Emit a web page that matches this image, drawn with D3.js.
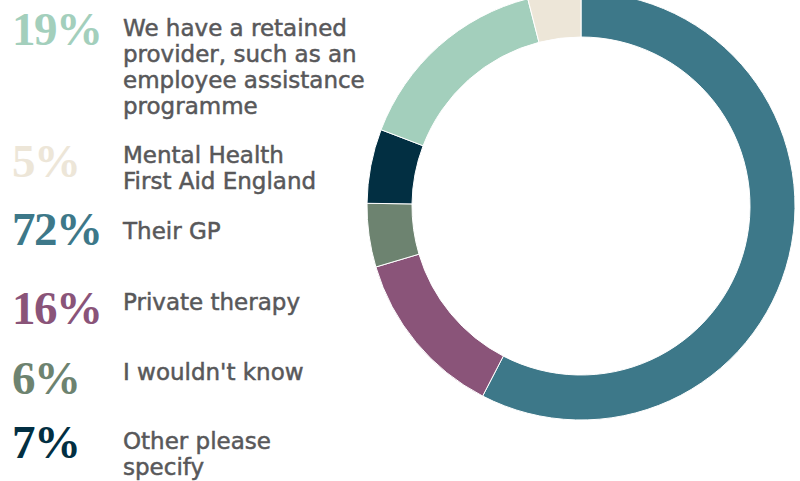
<!DOCTYPE html>
<html>
<head>
<meta charset="utf-8">
<script src="https://cdn.jsdelivr.net/npm/d3@7"></script>
<style>
  html, body { margin: 0; padding: 0; background: #ffffff; }
  svg { display: block; }
</style>
</head>
<body>
<svg id="chart" width="800" height="481"></svg>
<script>
// Where employees would turn for mental health support (multiple answers allowed)
const categories = [
  "We have a retained provider, such as an employee assistance programme",
  "Mental Health First Aid England",
  "Their GP",
  "Private therapy",
  "I wouldn't know",
  "Other please specify"
];
const labelLines = [
  ["We have a retained", "provider, such as an", "employee assistance", "programme"],
  ["Mental Health", "First Aid England"],
  ["Their GP"],
  ["Private therapy"],
  ["I wouldn't know"],
  ["Other please", "specify"]
];
const values = [19, 5, 72, 16, 6, 7];
// Order of the ring segments, clockwise from twelve o'clock
const ringOrder = [2, 3, 4, 5, 0, 1];

const palette = ["#a3cfbc", "#ede6d8", "#3d7889", "#8a5479", "#6d8370", "#022f42"];

const svg = d3.select("#chart");

// ---- Ring ----
const cx = 581, cy = 206, outerR = 214, innerR = 169;

const pie = d3.pie()
  .sort(null)
  .value(i => values[i]);

const arc = d3.arc()
  .innerRadius(innerR)
  .outerRadius(outerR);

svg.append("g")
  .attr("transform", `translate(${cx},${cy})`)
  .selectAll("path")
  .data(pie(ringOrder))
  .join("path")
  .attr("d", arc)
  .attr("fill", d => palette[d.data])
  .attr("stroke", "#ffffff")
  .attr("stroke-width", 1);

// ---- Legend ----
const pctBaseline = [45, 177, 245, 324, 394, 458];
const labelBaseline = [36, 163, 239, 310, 380, 449];
const lineStep = 26;

const legend = svg.append("g");

const rows = legend.selectAll("g.row")
  .data(categories.map((c, i) => i))
  .join("g")
  .attr("class", "row");

rows.append("text")
  .attr("x", 12)
  .attr("y", i => pctBaseline[i])
  .attr("fill", i => palette[i])
  .attr("font-family", "'Liberation Serif', 'DejaVu Serif', serif")
  .attr("font-weight", 700)
  .attr("font-size", 47)
  .attr("letter-spacing", -1.5)
  .text(i => values[i] + "%");

rows.append("text")
  .attr("x", 123)
  .attr("y", i => labelBaseline[i])
  .attr("fill", "#58585a")
  .attr("stroke", "#58585a")
  .attr("stroke-width", 0.5)
  .attr("font-family", "'DejaVu Sans', 'Open Sans', sans-serif")
  .attr("font-size", 23)
  .selectAll("tspan")
  .data(i => labelLines[i].map((t, k) => ({ t, k })))
  .join("tspan")
  .attr("x", 123)
  .attr("dy", d => d.k === 0 ? 0 : lineStep)
  .text(d => d.t);
</script>
</body>
</html>
